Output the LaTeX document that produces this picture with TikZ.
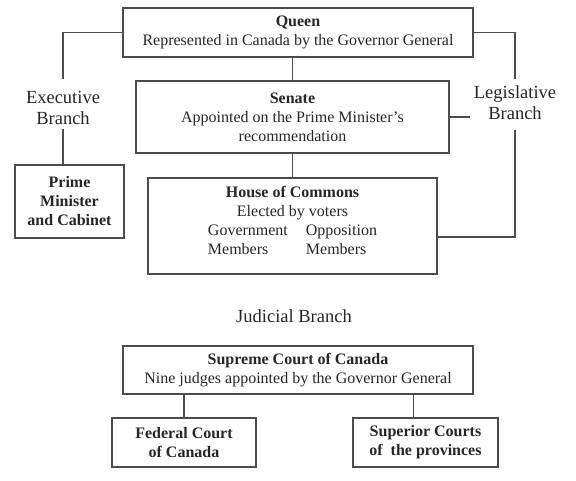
\documentclass[tikz,border=0pt]{standalone}
\usepackage{fontspec}
\setmainfont{Liberation Serif}
\begin{document}
\begin{tikzpicture}[x=1pt,y=-1pt,font=\fontsize{16}{19}\selectfont,text=black!85,box/.style={draw=black!70, line width=1.3pt, align=center, inner sep=0pt},branch/.style={align=center, inner sep=4pt, font=\fontsize{18.5}{21}\selectfont},link/.style={draw=black!70, line width=1.3pt}]
\useasboundingbox (0,0) rectangle (576,480);
\node[box, minimum width=350pt, minimum height=49pt] (queen) at (298,32.5) {\textbf{Queen}\\Represented in Canada by the Governor General};
\node[box, minimum width=313pt, minimum height=72pt] (senate) at (292.5,117) {\textbf{Senate}\\Appointed on the Prime Minister’s\\recommendation};
\node[box, minimum width=289pt, minimum height=96pt] (house) at (292.5,226) {\textbf{House of Commons}\\Elected by voters\\\begin{tabular}[t]{@{}l@{\hspace{18pt}}l@{}}Government&Opposition\\Members&Members\\[6pt]\end{tabular}};
\node[box, minimum width=109pt, minimum height=73pt, font=\fontsize{16}{19}\selectfont\bfseries] (pm) at (69.5,201.5) {Prime\\Minister\\and Cabinet};
\node[branch] (exec) at (63,108.4) {Executive\\Branch};\node[branch] (leg) at (515,102.4) {Legislative\\Branch};
\draw[link, shorten >=8pt] (queen.west) -| (exec.north);\draw[link] (exec.south) -- (exec.south |- pm.north);
\draw[link, shorten >=2pt] (queen.east) -| (leg.north);\draw[link, shorten <=6pt] (leg.south) |- ([yshift=-11pt]house.east);\draw[link] (senate.east) -- (senate.east -| leg.west);
\draw[link] (senate.north) -- (senate.north |- queen.south);\draw[link] (senate.south) -- (house.north);
% judicial part
\node[branch] (judicial) at (294,316) {Judicial Branch};
\node[box, minimum width=350pt, minimum height=48pt] (supreme) at (298,370) {\textbf{Supreme Court of Canada}\\Nine judges appointed by the Governor General};
\node[box, minimum width=144pt, minimum height=49pt, font=\fontsize{16}{19}\selectfont\bfseries] (federal) at (184,442.5) {Federal Court\\of Canada};\node[box, minimum width=145pt, minimum height=49pt, font=\fontsize{16}{19}\selectfont\bfseries] (superior) at (425.5,442.5) {Superior Courts\\of\ \ the provinces};
\draw[link] (federal.north) -- (federal.north |- supreme.south);\draw[link] ([xshift=-12pt]superior.north) -- ([xshift=-12pt]superior.north |- supreme.south);
\end{tikzpicture}
\end{document}
